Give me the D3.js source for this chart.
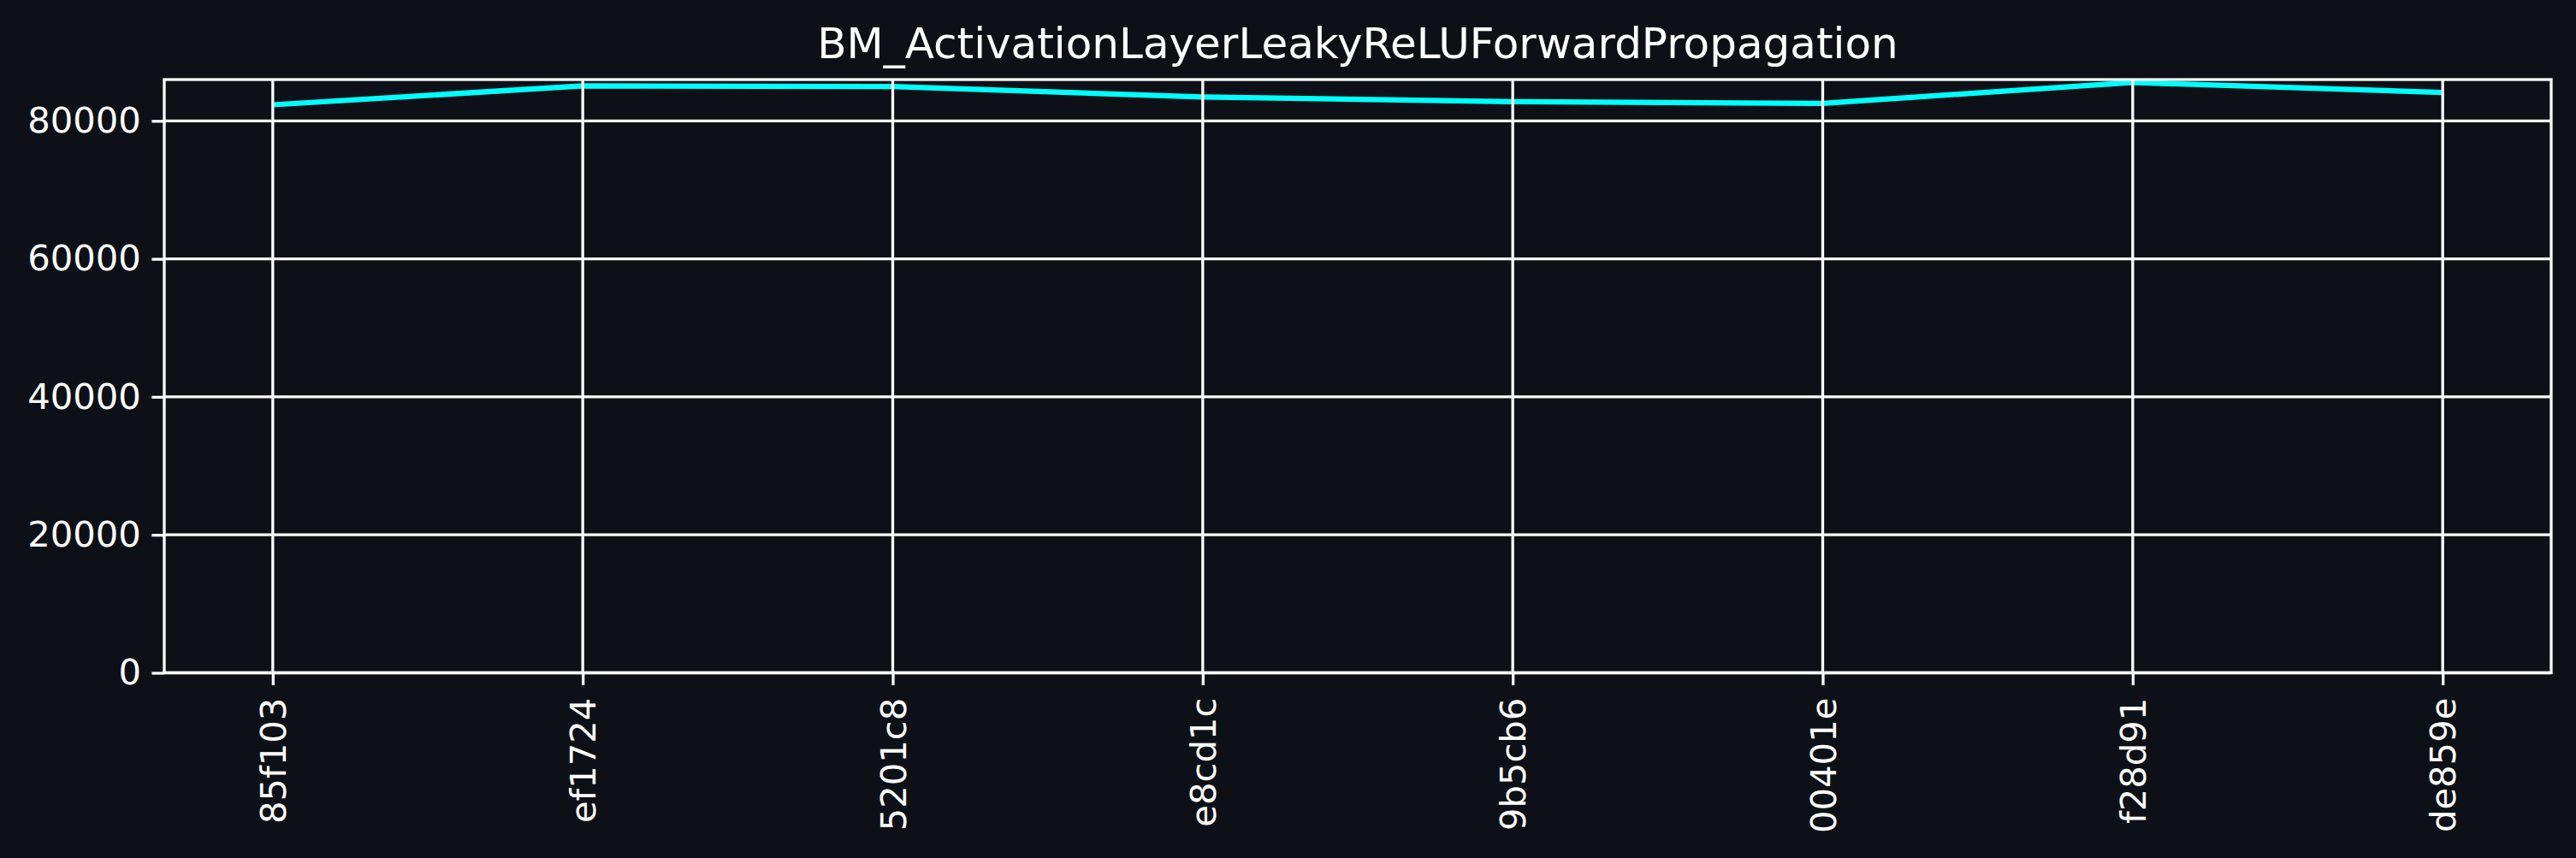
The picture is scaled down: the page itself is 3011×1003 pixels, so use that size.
<!DOCTYPE html>
<html><head><meta charset="utf-8">
<script src="https://cdn.jsdelivr.net/npm/d3@7"></script>
<style>html,body{margin:0;padding:0;background:#0d1117;} svg{display:block}</style>
</head><body><svg id="c" width="3011" height="1003"></svg>
<script>
const chartTitle = "BM_ActivationLayerLeakyReLUForwardPropagation";
const categories = ["85f103","ef1724","5201c8","e8cd1c","9b5cb6","00401e","f28d91","de859e"];
const values = [82330,85060,84980,83450,82790,82540,85560,84120];
const yTicks = [0,20000,40000,60000,80000];

const W = 3011, H = 1003;
const m = {left:192, right:2982, top:93, bottom:786.5};
const font = "'DejaVu Sans', sans-serif";
const svg = d3.select("#c");
svg.append("rect").attr("width", W).attr("height", H).attr("fill", "#0d1117");

const x = d3.scalePoint().domain(categories).range([m.left, m.right]).padding(0.35);
const y = d3.scaleLinear().domain([0, d3.max(values) * 1.005]).range([m.bottom, m.top]);

// line
const line = d3.line().x((d, i) => x(categories[i])).y(d => y(d));
svg.append("path").datum(values)
  .attr("d", line).attr("fill", "none")
  .attr("stroke", "#00ffff").attr("stroke-width", 6.25)
  .attr("stroke-linejoin", "round").attr("stroke-linecap", "butt");

// grid
const grid = svg.append("g");
grid.selectAll("line.h").data(yTicks).enter().append("line")
  .attr("x1", m.left).attr("x2", m.right)
  .attr("y1", d => y(d)).attr("y2", d => y(d))
  .attr("stroke", "#ffffff").attr("stroke-width", 3.3);
grid.selectAll("line.v").data(categories).enter().append("line")
  .attr("x1", d => x(d)).attr("x2", d => x(d))
  .attr("y1", m.top).attr("y2", m.bottom)
  .attr("stroke", "#ffffff").attr("stroke-width", 3.3);

// frame
svg.append("rect").attr("x", m.left).attr("y", m.top)
  .attr("width", m.right - m.left).attr("height", m.bottom - m.top)
  .attr("fill", "none").attr("stroke", "#ffffff").attr("stroke-width", 3.3);

// y axis
const ya = svg.append("g").attr("transform", `translate(${m.left},0)`)
  .call(d3.axisLeft(y).tickValues(yTicks).tickSize(14.6).tickPadding(12.5).tickFormat(d3.format("d")));
ya.select(".domain").remove();
ya.selectAll(".tick line").attr("stroke", "#ffffff").attr("stroke-width", 3.3);
ya.selectAll("text").attr("fill", "#ffffff").style("font-family", font).style("font-size", "41.7px");

// x axis
const xa = svg.append("g").attr("transform", `translate(0,${m.bottom})`)
  .call(d3.axisBottom(x).tickSize(14.6).tickPadding(14.6));
xa.select(".domain").remove();
xa.selectAll(".tick line").attr("stroke", "#ffffff").attr("stroke-width", 3.3);
xa.selectAll("text").attr("fill", "#ffffff").style("font-family", font).style("font-size", "41.7px")
  .attr("transform", "rotate(-90)")
  .attr("y", 0).attr("x", -29.2).attr("dy", "0.35em")
  .attr("text-anchor", "end");

// title
svg.append("text").attr("x", (m.left + m.right) / 2).attr("y", 68)
  .attr("text-anchor", "middle").attr("fill", "#ffffff")
  .style("font-family", font).style("font-size", "50px")
  .text(chartTitle);
</script>
</body></html>
